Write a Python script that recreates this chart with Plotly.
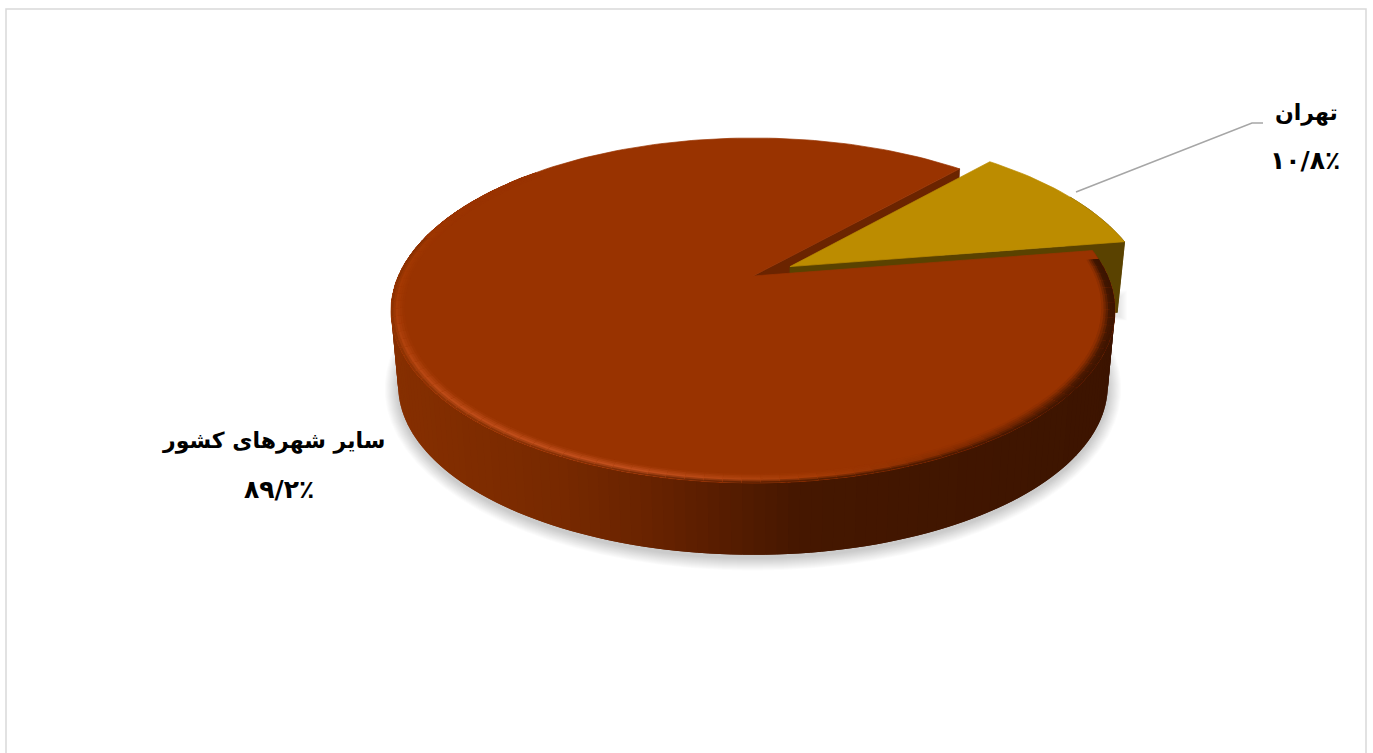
import math
import plotly.graph_objects as go

# --- data ---
categories = ["تهران", "سایر شهرهای کشور"]
shares = [10.8, 89.2]
share_labels = ["۱۰/۸٪", "۸۹/۲٪"]

# --- style / layout constants ---
W, H = 1373, 753
X0, Y0 = 753.0, 276.0      # projected pie centre
BX, BY, K = 354.7, 165.6, 0.2  # perspective projection of the disc
START = 42.0               # first slice start, degrees clockwise from the back
EXPLODE = 0.12
DEPTH_Y, BOTTOM_SCALE = 76.0, 0.98
MAIN, GOLD = "#993300", "#BC8C00"
MAIN_CUT, GOLD_WALL = "#6B2400", "#5A4200"
WALL_STOPS = [(390, (0x86, 0x2F, 0x00)), (560, (0x77, 0x29, 0x00)), (650, (0x68, 0x23, 0x00)),
              (730, (0x55, 0x1C, 0x00)), (800, (0x45, 0x17, 0x00)), (1120, (0x3C, 0x14, 0x00))]
HL_STOPS = [(90, (0x3E, 0x15, 0x00)), (125, (0x4C, 0x19, 0x00)), (150, (0x80, 0x2A, 0x00)),
            (172, (0xA6, 0x3C, 0x06)), (195, (0xC2, 0x50, 0x1E)), (230, (0xBE, 0x4C, 0x18)),
            (262, (0xA6, 0x3A, 0x04)), (285, (0x9E, 0x36, 0x01)), (300, (0x99, 0x33, 0x00))]
BASE_RGB = (0x99, 0x33, 0x00)


def proj(t_deg, r=1.0, ox=0.0, oy=0.0):
    a = math.radians(t_deg)
    X, Y = r * math.sin(a) + ox, -r * math.cos(a) + oy
    w = 1 - K * Y
    return X0 + BX * X / w, Y0 + BY * Y / w


def down(p, depth=DEPTH_Y):
    return X0 + BOTTOM_SCALE * (p[0] - X0), Y0 + depth + BOTTOM_SCALE * (p[1] - Y0)


def lerp(a, b, f):
    return tuple(a[i] + (b[i] - a[i]) * f for i in range(3))


def ramp(stops, v):
    if v <= stops[0][0]:
        return stops[0][1]
    for (v1, c1), (v2, c2) in zip(stops, stops[1:]):
        if v <= v2:
            return lerp(c1, c2, (v - v1) / (v2 - v1))
    return stops[-1][1]


def css(c):
    return "rgb(%d,%d,%d)" % tuple(round(v) for v in c)


fig = go.Figure()


def poly(pts, color, edge=False):
    fig.add_trace(go.Scatter(
        x=[p[0] for p in pts] + [pts[0][0]], y=[p[1] for p in pts] + [pts[0][1]],
        mode="lines", fill="toself", fillcolor=color,
        line=dict(color=color, width=0.7) if edge else dict(width=0),
        hoverinfo="skip", showlegend=False))


def arc(t1, t2, r=1.0, ox=0.0, oy=0.0, step=1.5):
    n = max(2, int(abs(t2 - t1) / step))
    return [proj(t1 + (t2 - t1) * i / n, r, ox, oy) for i in range(n + 1)]


# slice angles come from the shares
gold_t1 = START
gold_t2 = gold_t1 + shares[0] * 3.6
main_t1, main_t2 = gold_t2, gold_t1 + 360.0
mid = math.radians((gold_t1 + gold_t2) / 2)
ox, oy = EXPLODE * math.sin(mid), -EXPLODE * math.cos(mid)

# soft ground shadow
for grow in range(13, 0, -1):
    pts = []
    for p in arc(0, 360, step=4):
        q = down(p)
        cx, cy = X0, Y0 + DEPTH_Y + 34
        pts.append((cx + (q[0] - cx) * (1 + grow / 340), cy + (q[1] - cy) * (1 + grow / 170) + 3))
    poly(pts, "rgba(0,0,0,0.016)")
for grow in range(8, 0, -1):
    c = down(proj(gold_t2, 1.0, ox, oy), 70)
    poly([(c[0] - 30, c[1] - 14 - grow), (c[0] + 2 + grow, c[1] - 14 - grow),
          (c[0] + 2 + grow, c[1] + 4 + grow / 2), (c[0] - 30, c[1] + 4 + grow / 2)],
         "rgba(0,0,0,0.012)")

# cut wall of the big slice, mostly hidden by the gold slice
a = (X0, Y0)
e = proj(main_t2)
poly([a, e, down(e), down(a)], MAIN_CUT, edge=True)

# gold slice: walls then top
ag = proj(0, 0.0, ox, oy)
rim = arc(gold_t1 + 20, gold_t2, 1.0, ox, oy)
poly(rim + [down(p, 70) for p in reversed(rim)], GOLD_WALL, edge=True)
eg = proj(gold_t2, 1.0, ox, oy)
poly([ag, eg, down(eg, 70), down(ag, 70)], GOLD_WALL, edge=True)
poly([ag] + arc(gold_t1, gold_t2, 1.0, ox, oy), GOLD, edge=True)

# big slice: outer wall as overlapping strips shaded by screen position
t = main_t1
STEP = 1.5
while t < 300:
    p1, p2 = proj(t), proj(t + STEP + 1.5)
    colour = ramp(WALL_STOPS, proj(t + STEP / 2)[0])
    poly([p1, p2, down(p2), down(p1)], css(colour))
    t += STEP

# big slice: top
poly([a] + arc(main_t1, main_t2), MAIN, edge=True)

# rounded bevel round the front of the rim (overlapping rings, drawn outwards)
LAYERS = 6
BAND = 0.036
t = max(main_t1, 84.0)
STEP = 2.5
while t < 312:
    mid_t = t + STEP / 2
    px = proj(mid_t)[0]
    hl = ramp(HL_STOPS, mid_t)
    wall = ramp(WALL_STOPS, px) if mid_t < 285 else BASE_RGB
    for i in range(LAYERS):
        f = (i + 0.5) / LAYERS
        c = lerp(BASE_RGB, hl, f / 0.6) if f < 0.6 else lerp(hl, wall, (f - 0.6) / 0.4)
        r1 = 1 - BAND + BAND * i / LAYERS
        poly([proj(t, r1), proj(t + STEP + 1.5, r1), proj(t + STEP + 1.5, 1.0), proj(t, 1.0)], css(c))
    t += STEP

# leader line of the Tehran label
fig.add_trace(go.Scatter(x=[1076, 1252, 1263], y=[192, 123, 123], mode="lines",
                         line=dict(color="#A6A6A6", width=1.6), hoverinfo="skip", showlegend=False))

label_font = dict(family="DejaVu Sans", size=22, color="#000000")
pct_font = dict(family="DejaVu Sans", size=25, color="#000000")
annos = [
    dict(x=1306, y=113, text="<b>%s</b>" % categories[0], font=label_font),
    dict(x=1305, y=160, text="<b>%s</b>" % share_labels[0], font=pct_font),
    dict(x=273, y=441, text="<b>%s</b>" % categories[1], font=label_font),
    dict(x=279, y=489, text="<b>%s</b>" % share_labels[1], font=pct_font),
]
for an in annos:
    an.update(xref="x", yref="y", showarrow=False, xanchor="center", yanchor="middle")

fig.update_layout(
    width=W, height=H, margin=dict(l=0, r=0, t=0, b=0),
    paper_bgcolor="white", plot_bgcolor="white", showlegend=False,
    xaxis=dict(range=[0, W], visible=False, fixedrange=True),
    yaxis=dict(range=[H, 0], visible=False, fixedrange=True),
    annotations=annos,
    shapes=[dict(type="rect", xref="x", yref="y", x0=6, x1=1366, y0=9, y1=800,
                 line=dict(color="#D9D9D9", width=1.5), fillcolor="rgba(0,0,0,0)", layer="below")],
)
fig.write_html("out.html", config=dict(displayModeBar=False),
               post_script="document.body.style.margin='0';document.body.style.overflow='hidden';")
